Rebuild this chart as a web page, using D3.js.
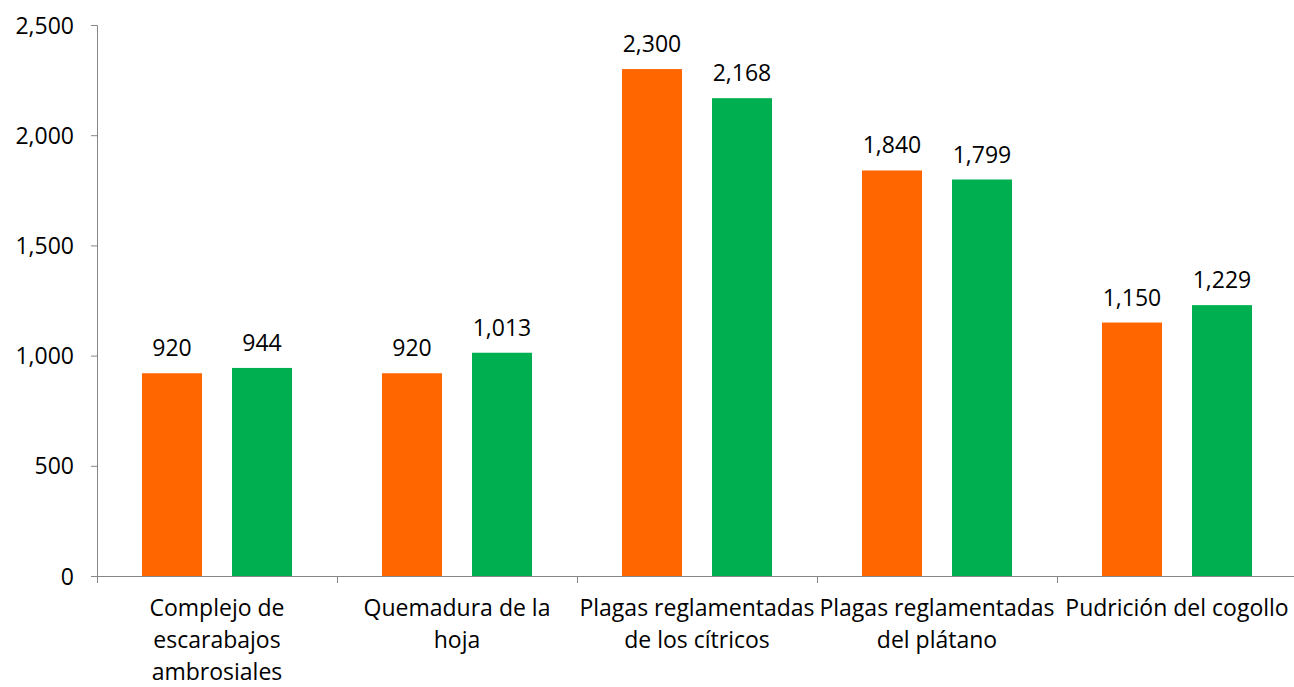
<!DOCTYPE html>
<html>
<head>
<meta charset="utf-8">
<script src="https://cdn.jsdelivr.net/npm/d3@7"></script>
<style>
  body { margin: 0; background: #fff; }
  text { font-family: "Open Sans", "Liberation Sans", sans-serif; fill: #000; }
</style>
</head>
<body>
<div id="chart"></div>
<script>
// data
var categories = [
    ["Complejo de", "escarabajos", "ambrosiales"],
    ["Quemadura de la", "hoja"],
    ["Plagas reglamentadas", "de los cítricos"],
    ["Plagas reglamentadas", "del plátano"],
    ["Pudrición del cogollo"]
];
var seriesNames = ["s1", "s2"];
var series1 = [920, 920, 2300, 1840, 1150];
var series2 = [944, 1013, 2168, 1799, 1229];
var yTicks = [0, 500, 1000, 1500, 2000, 2500];
var colors = ["#FF6600", "#00B050"];

var W = 1294, H = 687;
var margin = { top: 25, right: -3, bottom: 111, left: 97 },
    width = W - margin.left - margin.right,
    height = H - margin.top - margin.bottom;

var svg = d3.select("#chart").append("svg")
    .attr("width", W)
    .attr("height", H);

var g = svg.append("g")
    .attr("transform", "translate(" + margin.left + "," + margin.top + ")");

var idx = d3.range(categories.length);

var xScale = d3.scaleBand()
    .domain(idx)
    .range([0, width])
    .padding(0);

var bw = xScale.bandwidth();
var xInner = d3.scaleBand()
    .domain(seriesNames)
    .range([bw * 0.1875, bw * 0.8125])
    .paddingInner(1 / 3);

var yScale = d3.scaleLinear()
    .domain([0, 2500])
    .range([height, 0]);

// y axis
var yAxis = d3.axisLeft(yScale)
    .tickValues(yTicks)
    .tickSize(6)
    .tickPadding(17)
    .tickFormat(d3.format(","));

var yg = g.append("g").call(yAxis);
yg.select(".domain").attr("stroke", "#868686").attr("d", "M-6,0.5H0.5V" + height);
yg.selectAll(".tick line").attr("stroke", "#868686");
yg.selectAll(".tick text").style("font-size", "23px").attr("dy", "0.35em");

// bars
var data = idx.map(function (i) {
    return [
        { cat: i, s: "s1", v: series1[i], c: colors[0] },
        { cat: i, s: "s2", v: series2[i], c: colors[1] }
    ];
});

var groups = g.selectAll(".grp")
    .data(data)
    .enter()
    .append("g")
    .attr("class", "grp")
    .attr("transform", function (d, i) { return "translate(" + xScale(i) + ",0)"; });

groups.selectAll("rect")
    .data(function (d) { return d; })
    .enter()
    .append("rect")
    .attr("x", function (d) { return xInner(d.s); })
    .attr("width", xInner.bandwidth())
    .attr("y", function (d) { return yScale(d.v); })
    .attr("height", function (d) { return height - yScale(d.v); })
    .attr("fill", function (d) { return d.c; });

groups.selectAll(".val")
    .data(function (d) { return d; })
    .enter()
    .append("text")
    .attr("class", "val")
    .attr("x", function (d) { return xInner(d.s) + xInner.bandwidth() / 2; })
    .attr("y", function (d) { return yScale(d.v) - 17; })
    .attr("text-anchor", "middle")
    .style("font-size", "23px")
    .text(function (d) { return d3.format(",")(d.v); });

// x axis
var xg = g.append("g")
    .attr("transform", "translate(0," + height + ")");

xg.append("line")
    .attr("x1", 0).attr("x2", width)
    .attr("y1", 0.5).attr("y2", 0.5)
    .attr("stroke", "#868686");

xg.selectAll(".xt")
    .data(d3.range(categories.length + 1))
    .enter()
    .append("line")
    .attr("class", "xt")
    .attr("x1", function (d) { return Math.round(d * bw) + 0.5; })
    .attr("x2", function (d) { return Math.round(d * bw) + 0.5; })
    .attr("y1", 0).attr("y2", 7)
    .attr("stroke", "#868686");

var labels = xg.selectAll(".xl")
    .data(categories)
    .enter()
    .append("text")
    .attr("class", "xl")
    .attr("text-anchor", "middle")
    .attr("transform", function (d, i) { return "translate(" + (xScale(i) + bw / 2) + ",0)"; })
    .style("font-size", "23px");

labels.selectAll("tspan")
    .data(function (d) { return d; })
    .enter()
    .append("tspan")
    .attr("x", 0)
    .attr("y", function (d, i) { return 40 + i * 32; })
    .text(function (d) { return d; });
</script>
</body>
</html>
